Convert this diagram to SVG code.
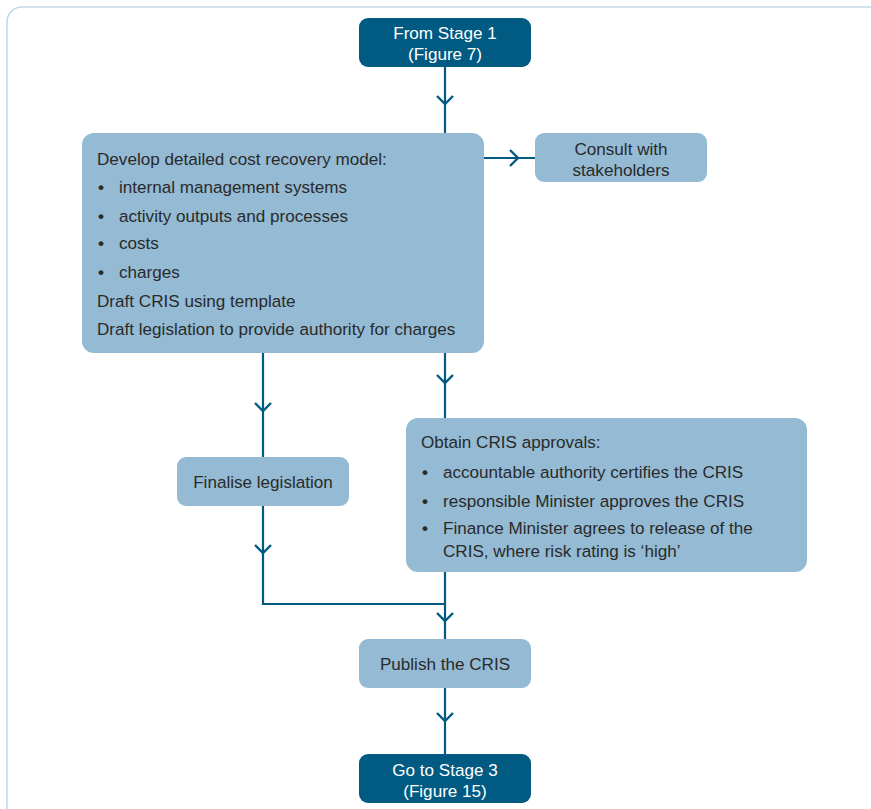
<svg xmlns="http://www.w3.org/2000/svg" width="871" height="809" viewBox="0 0 871 809">
<defs>
<style>
.frame{fill:#fff;stroke:#c3dae9;stroke-width:1.6}
.dark{fill:#005a82}
.light{fill:#94bad4}
.conn{fill:none;stroke:#005a82;stroke-width:2.2}
.chev{fill:none;stroke:#005a82;stroke-width:2.4;stroke-linejoin:miter}
text{font-family:"Liberation Sans","DejaVu Sans",sans-serif;font-size:17.1px;fill:#2a2a2a}
.b{font-weight:bold}
.w{fill:#fff}
.c{text-anchor:middle}
</style>
<path id="chevD" class="chev" d="M-8,-8 L0,0 L8,-8"/>
<path id="chevR" class="chev" d="M-8,-8 L0,0 L-8,8"/>
</defs>
<rect class="frame" x="7" y="7" width="900" height="840" rx="15"/>

<g id="connectors">
<path class="conn" d="M445,67 V133"/>
<use href="#chevD" x="445" y="104"/>
<path class="conn" d="M484,158 H535"/>
<use href="#chevR" x="518" y="158"/>
<path class="conn" d="M263,353 V457"/>
<use href="#chevD" x="263" y="411"/>
<path class="conn" d="M445,353 V418"/>
<use href="#chevD" x="445" y="383"/>
<path class="conn" d="M263,506 V604 H445"/>
<use href="#chevD" x="263" y="553"/>
<path class="conn" d="M445,572 V639"/>
<use href="#chevD" x="445" y="621"/>
<path class="conn" d="M445,688 V754"/>
<use href="#chevD" x="445" y="721"/>
</g>

<g id="stage1">
<rect class="dark" x="359" y="18" width="172" height="49" rx="9"/>
<text class="w c" x="445" y="39">From Stage 1</text>
<text class="w c" x="445" y="60">(Figure 7)</text>
</g>

<g id="develop">
<rect class="light" x="82" y="133" width="402" height="220" rx="12"/>
<text x="97" y="165">Develop detailed cost recovery model:</text>
<text class="b" x="98" y="193">•</text><text x="119" y="193">internal management systems</text>
<text class="b" x="98" y="222">•</text><text x="119" y="222">activity outputs and processes</text>
<text class="b" x="98" y="249">•</text><text x="119" y="249">costs</text>
<text class="b" x="98" y="278">•</text><text x="119" y="278">charges</text>
<text x="97" y="307">Draft CRIS using template</text>
<text x="97" y="335">Draft legislation to provide authority for charges</text>
</g>

<g id="consult">
<rect class="light" x="535" y="133" width="172" height="49" rx="9"/>
<text class="c" x="621" y="155">Consult with</text>
<text class="c" x="621" y="176">stakeholders</text>
</g>

<g id="finalise">
<rect class="light" x="177" y="457" width="172" height="49" rx="9"/>
<text class="c" x="263" y="488">Finalise legislation</text>
</g>

<g id="obtain">
<rect class="light" x="406" y="418" width="401" height="154" rx="12"/>
<text x="421" y="448">Obtain CRIS approvals:</text>
<text class="b" x="422" y="478">•</text><text x="443" y="478">accountable authority certifies the CRIS</text>
<text class="b" x="422" y="507">•</text><text x="443" y="507">responsible Minister approves the CRIS</text>
<text class="b" x="422" y="534">•</text><text x="443" y="534">Finance Minister agrees to release of the</text>
<text x="443" y="557">CRIS, where risk rating is ‘high’</text>
</g>

<g id="publish">
<rect class="light" x="359" y="639" width="172" height="49" rx="9"/>
<text class="c" x="445" y="670">Publish the CRIS</text>
</g>

<g id="stage3">
<rect class="dark" x="359" y="754" width="172" height="49" rx="9"/>
<text class="w c" x="445" y="776">Go to Stage 3</text>
<text class="w c" x="445" y="797">(Figure 15)</text>
</g>
</svg>
